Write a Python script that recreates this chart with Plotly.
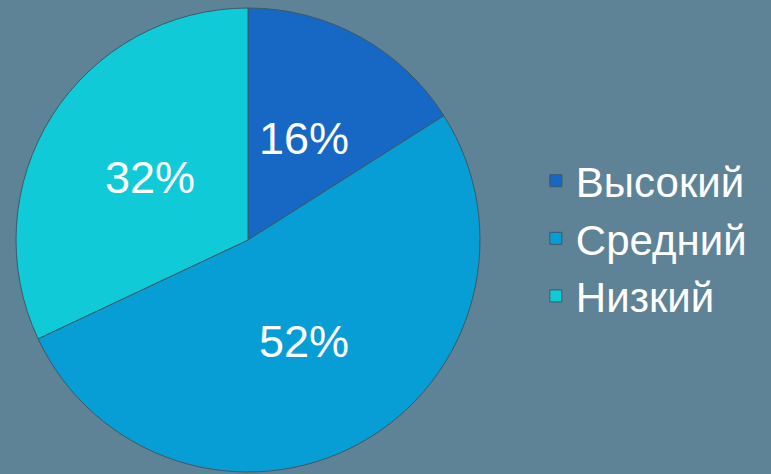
import math
import plotly.graph_objects as go

labels = ["Высокий", "Средний", "Низкий"]
values = [16, 52, 32]
colors = ["#1668c4", "#079ed6", "#10cad8"]

W, H = 771, 474
cx, cy, r = 248, 240, 232
label_radius = 0.5  # fraction of pie radius where percentage labels sit

fig = go.Figure(go.Pie(
    labels=labels,
    values=values,
    sort=False,
    direction="clockwise",
    rotation=0,
    marker=dict(colors=colors, line=dict(color="#3e5868", width=1)),
    textinfo="none",
    domain=dict(x=[(cx - r) / W, (cx + r) / W],
                y=[(H - cy - r) / H, (H - cy + r) / H]),
    hoverinfo="label+percent",
))

# percentage labels placed on each slice's bisector (derived from the values)
total = sum(values)
cum = 0.0
for v in values:
    mid = (cum + v / 2) / total * 2 * math.pi
    cum += v
    px = cx + label_radius * r * math.sin(mid)
    py = cy - label_radius * r * math.cos(mid)
    fig.add_annotation(
        x=px / W, y=(H - py) / H, xref="paper", yref="paper",
        text=f"{round(v / total * 100)}%", showarrow=False,
        font=dict(family="Liberation Sans, Arial", size=45, color="white"),
        xanchor="center", yanchor="middle",
    )

fig.update_layout(
    width=W, height=H,
    margin=dict(l=0, r=0, t=0, b=0),
    paper_bgcolor="#5e8396",
    plot_bgcolor="#5e8396",
    showlegend=True,
    legend=dict(
        x=0.695, y=0.497, xanchor="left", yanchor="middle",
        font=dict(family="Liberation Sans, Arial", size=42, color="white"),
        bgcolor="rgba(0,0,0,0)",
        itemwidth=30,
        tracegroupgap=0,
    ),
)

fig.write_html("out.html", config={"displayModeBar": False},
               post_script="document.body.style.margin='0';document.body.style.background='#5e8396';")
